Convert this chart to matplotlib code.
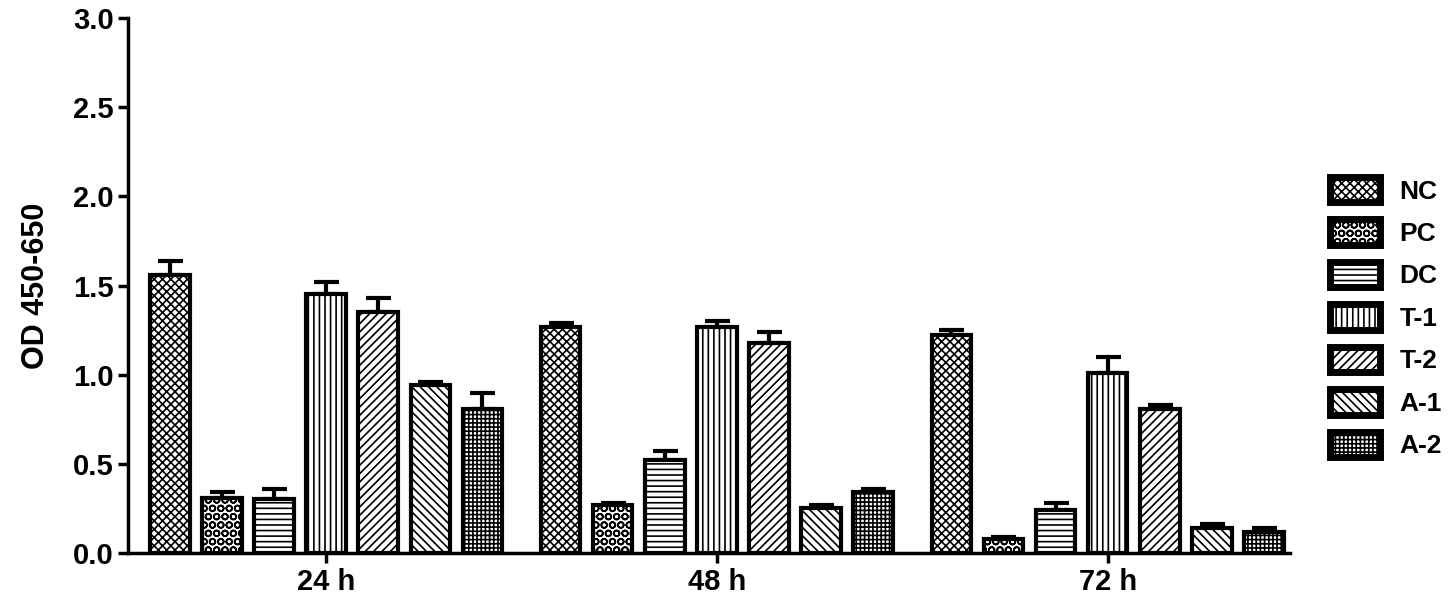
import numpy as np
import matplotlib
matplotlib.use("Agg")
import matplotlib.pyplot as plt

# data
groups = ["24 h", "48 h", "72 h"]
series = ["NC", "PC", "DC", "T-1", "T-2", "A-1", "A-2"]
means = {
    "NC":  [1.56, 1.27, 1.22],
    "PC":  [0.31, 0.27, 0.08],
    "DC":  [0.30, 0.52, 0.24],
    "T-1": [1.45, 1.27, 1.01],
    "T-2": [1.35, 1.18, 0.81],
    "A-1": [0.94, 0.25, 0.14],
    "A-2": [0.81, 0.34, 0.12],
}
errs = {
    "NC":  [0.08, 0.02, 0.03],
    "PC":  [0.03, 0.01, 0.01],
    "DC":  [0.06, 0.05, 0.04],
    "T-1": [0.07, 0.03, 0.09],
    "T-2": [0.08, 0.06, 0.02],
    "A-1": [0.02, 0.02, 0.02],
    "A-2": [0.09, 0.02, 0.02],
}
hatches = ["xxxx", "OO", "---", "|||", "////", "\\\\\\\\", "++++"]

plt.rcParams['font.family'] = ['Liberation Sans', 'DejaVu Sans']
plt.rcParams['font.weight'] = 'bold'
plt.rcParams['hatch.linewidth'] = 1.2

fig = plt.figure(figsize=(14.56, 6.05), dpi=100)
ax = fig.add_axes([0.088, 0.086, 0.798, 0.884])

gap = 7.5
centers = np.arange(len(groups)) * gap
for j, s in enumerate(series):
    x = centers + (j - 3)
    ax.bar(x, means[s], width=0.76, color="white", edgecolor="black",
           linewidth=3, hatch=hatches[j], label=s, zorder=2)
    ax.errorbar(x, means[s], yerr=[np.zeros(3), errs[s]], fmt="none",
                ecolor="black", elinewidth=3, capsize=9, capthick=3, zorder=1)

ax.set_ylim(0, 3.0)
ax.set_xlim(-3.8, centers[-1] + 3.5)
ax.set_yticks(np.arange(0, 3.01, 0.5))
ax.set_yticklabels([f"{v:.1f}" for v in np.arange(0, 3.01, 0.5)])
ax.set_xticks(centers)
ax.set_xticklabels(groups)
ax.tick_params(axis='both', labelsize=21, width=2.5, length=7, direction='out')
ax.set_ylabel("OD 450-650", fontsize=22, fontweight='bold', labelpad=16)
for sp in ["top", "right"]:
    ax.spines[sp].set_visible(False)
for sp in ["left", "bottom"]:
    ax.spines[sp].set_linewidth(2.5)

leg = ax.legend(loc="center left", bbox_to_anchor=(1.034, 0.44), frameon=False,
                fontsize=19, handlelength=1.9, handleheight=1.1,
                labelspacing=0.6, handletextpad=0.75,
                borderpad=0, borderaxespad=0)
for h in leg.legend_handles:
    h.set_linewidth(5)

fig.savefig("out.png", dpi=100)
